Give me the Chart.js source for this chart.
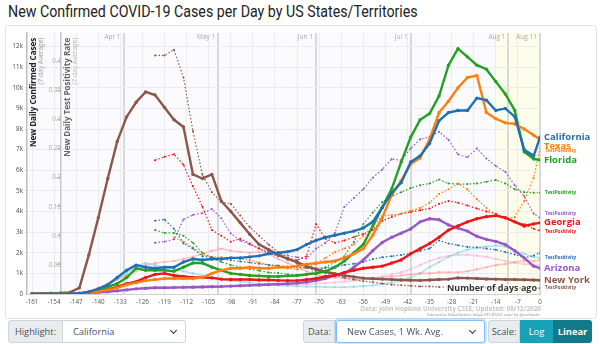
<!DOCTYPE html>
<html lang="en">
<head>
<meta charset="utf-8">
<title>New Confirmed COVID-19 Cases per Day by US States/Territories</title>
<script src="https://cdn.jsdelivr.net/npm/chart.js@4.4.0/dist/chart.umd.min.js"></script>
<style>
  html, body { margin: 0; padding: 0; background: #fff; width: 600px; height: 344px; overflow: hidden; font-family: Roboto, "Open Sans", sans-serif; }
  #titulo { position: absolute; left: 8px; top: 1px; font-size: 17px; color: #222; white-space: nowrap; transform-origin: 0 0; }
  #caixa { position: absolute; left: 5px; top: 25px; width: 590px; height: 292px; border: 1px solid #e4e4e4; border-radius: 3px; }
  #area { position: absolute; left: 6px; top: 28px; width: 590px; height: 278px; }
  .fonte { position: absolute; right: 59px; white-space: nowrap; font-family: "Open Sans", sans-serif; color: #c6c6c6; font-weight: 700; }
  .grupo { position: absolute; top: 320px; height: 23px; display: flex; font-family: "Open Sans", sans-serif; font-size: 9.3px; color: #495057; }
  .rot { background: #e9ecef; border: 1px solid #ced4da; border-radius: 3px 0 0 3px; display: flex; align-items: center; justify-content: center; padding: 0; box-sizing: border-box; }
  .sel { background: #fff; border: 1px solid #ced4da; border-left: none; border-radius: 0 3px 3px 0; display: flex; align-items: center; padding: 0 10px; box-sizing: border-box; position: relative; }
  .sel::after { content: ""; position: absolute; right: 9px; top: 7px; width: 4px; height: 4px; border-right: 1.5px solid #333; border-bottom: 1.5px solid #333; transform: rotate(45deg); }
  .foco { border: 1px solid #80bdff; box-shadow: 0 0 0 2px rgba(0,123,255,0.18); border-radius: 3px; }
  .bt { display: flex; align-items: center; justify-content: center; color: #fff; box-sizing: border-box; }
</style>
</head>
<body>
<div id="titulo">New Confirmed COVID-19 Cases per Day by US States/Territories</div>
<div id="caixa"></div>
<div id="area"><canvas id="graficoCasos" width="590" height="278"></canvas></div>
<div class="fonte" style="top:304px; font-size:6.4px;">Data: John Hopkins University CSSE; Updated: 08/12/2020</div>
<div class="fonte" style="top:312px; font-size:3.6px; color:#b5b5b5;">Interactive Visualization: https://91-DIVOC.com/ by @profwade_</div>

<div class="grupo" style="left:8px; width:178px;">
  <div class="rot" style="width:55px;">Highlight:</div>
  <div class="sel" style="width:123px;">California</div>
</div>
<div class="grupo" style="left:303px; width:182px;">
  <div class="rot" style="width:33px;">Data:</div>
  <div class="sel foco" style="width:149px;">New Cases, 1 Wk. Avg.</div>
</div>
<div class="grupo" style="left:488px; width:104px;">
  <div class="rot" style="width:32px;">Scale:</div>
  <div class="bt" style="width:33px; background:#17a2b8;">Log</div>
  <div class="bt" style="width:39px; background:#117a8b; border-radius:0 3px 3px 0; font-weight:700;">Linear</div>
</div>

<script>
// dias atrás (eixo x) — um ponto a cada 3 dias
const dias = [-161,-158,-155,-152,-149,-146,-143,-140,-137,-134,-131,-128,-125,-122,-119,-116,-113,-110,-107,-104,-101,-98,-95,-92,-89,-86,-83,-80,-77,-74,-71,-68,-65,-62,-59,-56,-53,-50,-47,-44,-41,-38,-35,-32,-29,-26,-23,-20,-17,-14,-11,-8,-5,-2,0];

// ticks do eixo x de baixo e do eixo y
const ticksDias = [-161,-154,-147,-140,-133,-126,-119,-112,-105,-98,-91,-84,-77,-70,-63,-56,-49,-42,-35,-28,-21,-14,-7,0];
const ticksCasos = [0,1000,2000,3000,4000,5000,6000,7000,8000,9000,10000,11000,12000];
const ticksPositividade = [0.05,0.1,0.15,0.2,0.25,0.3,0.35,0.4];

// linhas dos meses (em dias atrás) e seus nomes
const diasMeses = [-132,-102,-71,-41,-10,0];
const rotulosMeses = ['Apr 1','May 1','Jun 1','Jul 1','Aug 1','Aug 11'];

// casos novos por dia (média de 7 dias)
const casosCalifornia = [0,0,0,5,10,40,100,250,450,800,1150,1400,1300,1250,1300,1300,1550,1700,1650,1700,1700,1750,1750,1800,1850,1950,2000,2050,2150,2400,2600,2750,2850,2950,3050,3200,3500,4200,4900,5400,6400,6700,7300,8400,8800,8900,8900,9500,9400,8900,9000,8600,7000,6700,7600];
const casosTexas = [0,0,0,0,5,20,60,120,200,300,450,550,650,700,750,750,750,750,800,1000,1150,1250,1250,1300,1250,1250,1300,1300,1350,1450,1500,1550,1600,1750,1950,2200,2850,3700,4800,5500,6300,6600,7500,8800,9350,10000,10500,10600,8800,8500,8300,8250,8000,7700,7500];
const casosFlorida = [0,0,0,0,5,20,80,200,350,500,800,1250,1150,1150,1150,1100,1300,1500,1500,1300,1150,1000,950,900,880,850,850,880,900,950,1000,1100,1300,1600,2000,2400,3300,4200,5100,6400,7600,8450,8750,9600,11100,11900,11500,11100,10900,10300,9700,8900,6900,6550,6500];
const casosGeorgia = [0,0,0,0,5,20,60,120,220,350,500,600,800,950,1000,900,850,800,800,780,720,700,700,700,680,680,660,650,650,700,750,850,900,1050,1150,1250,1300,1350,1500,1650,1950,2200,2450,2750,3100,3300,3500,3650,3750,3800,3700,3500,3300,3400,3450];
const casosArizona = [0,0,0,0,5,20,50,80,110,150,200,250,280,300,300,310,320,330,340,350,360,380,400,420,440,460,480,500,530,580,650,750,900,1000,1300,1650,2100,2500,2750,2950,3150,3500,3650,3600,3350,3200,3050,2800,2650,2550,2400,2100,1750,1350,1250];
const casosNovaYork = [30,30,40,50,80,300,1900,3700,5600,7400,8600,9300,9800,9650,9050,8450,8100,5800,5600,5800,4500,4000,3450,2900,2400,2150,1900,1700,1550,1350,1200,1080,980,900,830,770,740,720,700,680,670,660,680,700,720,780,770,750,730,720,700,700,690,680,670];

// outros estados (linhas claras no fundo)
const casosOutroA = [0,0,0,0,10,50,150,300,500,700,900,1100,1400,1500,1550,1600,1700,1800,1950,2100,2200,2100,2050,2000,2050,1950,1700,1500,1300,1100,950,850,800,750,700,700,750,800,850,900,950,1000,1000,1050,1050,1050,1100,1200,1300,1400,1450,1550,1600,1600,1650];
const casosOutroB = [0,0,0,0,0,20,100,250,450,700,1000,1350,1500,1400,1300,1200,1100,1000,900,800,700,650,600,550,500,450,420,400,380,360,350,340,330,330,350,380,420,480,550,650,800,1000,1300,1550,1800,2000,2150,2250,2300,2350,2300,2100,1950,1800,1750];
const casosOutroC = [0,0,0,0,0,10,30,60,100,150,200,250,300,320,340,350,360,370,380,390,400,400,400,410,420,430,440,450,460,480,500,530,560,600,650,700,780,850,950,1050,1200,1400,1600,1750,1850,1900,1900,1850,1800,1700,1600,1500,1450,1400,1400];

// taxa de positividade dos testes (média de 7 dias), null antes de existir dado
const positCalifornia = [null,null,null,null,null,null,null,null,null,null,null,null,null,0.126,0.128,0.112,0.087,0.078,0.065,0.063,0.06,0.058,0.056,0.054,0.052,0.05,0.049,0.047,0.046,0.045,0.044,0.045,0.047,0.05,0.052,0.055,0.06,0.063,0.065,0.067,0.07,0.074,0.078,0.092,0.087,0.084,0.081,0.08,0.078,0.076,0.072,0.068,0.062,0.066,0.071];
const positTexas = [null,null,null,null,null,null,null,null,null,null,null,null,null,null,null,0.097,0.09,0.08,0.068,0.064,0.063,0.062,0.06,0.058,0.054,0.05,0.047,0.044,0.042,0.045,0.052,0.062,0.072,0.078,0.085,0.1,0.116,0.134,0.136,0.138,0.143,0.148,0.157,0.172,0.18,0.19,0.18,0.163,0.148,0.136,0.13,0.132,0.16,0.2,0.25];
const positFlorida = [null,null,null,null,null,null,null,null,null,null,null,null,null,0.11,0.105,0.105,0.1,0.088,0.071,0.062,0.055,0.05,0.046,0.043,0.04,0.037,0.036,0.034,0.032,0.034,0.04,0.046,0.055,0.065,0.09,0.12,0.14,0.158,0.168,0.175,0.182,0.187,0.19,0.197,0.19,0.189,0.189,0.19,0.193,0.196,0.19,0.18,0.175,0.174,0.174];
const positGeorgia = [null,null,null,null,null,null,null,null,null,null,null,null,null,0.23,0.236,0.24,0.222,0.185,0.15,0.11,0.1,0.09,0.095,0.087,0.078,0.07,0.065,0.062,0.058,0.065,0.12,0.095,0.088,0.092,0.098,0.103,0.11,0.126,0.132,0.138,0.141,0.144,0.147,0.155,0.16,0.157,0.152,0.147,0.142,0.138,0.13,0.124,0.12,0.112,0.109];
const positArizona = [null,null,null,null,null,null,null,null,null,null,null,null,null,0.088,0.09,0.094,0.128,0.136,0.139,0.146,0.13,0.104,0.092,0.085,0.078,0.073,0.07,0.066,0.063,0.061,0.078,0.088,0.105,0.15,0.165,0.18,0.2,0.214,0.232,0.23,0.25,0.266,0.27,0.279,0.265,0.24,0.235,0.25,0.233,0.22,0.21,0.187,0.168,0.138,0.131];
const positNovaYork = [null,null,null,null,null,null,null,null,null,null,null,null,null,0.41,0.41,0.42,0.372,0.28,0.205,0.175,0.158,0.155,0.135,0.115,0.1,0.085,0.072,0.062,0.052,0.045,0.04,0.036,0.032,0.028,0.025,0.022,0.02,0.018,0.016,0.015,0.014,0.013,0.013,0.012,0.012,0.012,0.011,0.011,0.011,0.011,0.011,0.01,0.01,0.01,0.01];

// cores de cada estado
const cores = { california: '#1f6fb4', texas: '#ff7f0e', florida: '#22a022', georgia: '#f01414', arizona: '#9856c8', novaYork: '#8c564b' };

// junta os dias com os valores no formato {x, y}
const paraPontos = (valores) => dias.map((d, i) => ({ x: d, y: valores[i] }));

// linha principal (casos)
const serieCasos = (rotulo, valores, cor) => ({
    label: rotulo, data: paraPontos(valores), yAxisID: 'y', xAxisID: 'x',
    borderColor: cor, backgroundColor: cor, borderWidth: 2.4, pointRadius: 1.7, pointBorderWidth: 0, tension: 0,
});
// linha pontilhada (positividade)
const seriePositividade = (rotulo, valores, cor) => ({
    label: rotulo, data: paraPontos(valores), yAxisID: 'y2', xAxisID: 'x',
    borderColor: cor, backgroundColor: cor, borderWidth: 1.2, borderDash: [1.5, 2], pointRadius: 1, pointBorderWidth: 0, tension: 0,
});
// linha clara de fundo
const serieFraca = (rotulo, valores, cor) => ({
    label: rotulo, data: paraPontos(valores), yAxisID: 'y', xAxisID: 'x',
    borderColor: cor, backgroundColor: cor, borderWidth: 1.6, pointRadius: 1.3, pointBorderWidth: 0, tension: 0,
});

// rótulos no fim das linhas (texto, cor, valores, eixo, ajuste vertical)
const rotulosFinais = [
    { texto: 'California', cor: cores.california, valores: casosCalifornia, eixo: 'y', ajuste: 0, grande: true },
    { texto: 'Texas', cor: cores.texas, valores: casosTexas, eixo: 'y', ajuste: 7, grande: true },
    { texto: 'TestPositivity', cor: cores.texas, valores: positTexas, eixo: 'y2', ajuste: 2, grande: false },
    { texto: 'Florida', cor: cores.florida, valores: casosFlorida, eixo: 'y', ajuste: 0, grande: true },
    { texto: 'TestPositivity', cor: cores.florida, valores: positFlorida, eixo: 'y2', ajuste: 0, grande: false },
    { texto: 'TestPositivity', cor: cores.arizona, valores: positArizona, eixo: 'y2', ajuste: -4, grande: false },
    { texto: 'Georgia', cor: cores.georgia, valores: casosGeorgia, eixo: 'y', ajuste: -1, grande: true },
    { texto: 'TestPositivity', cor: cores.georgia, valores: positGeorgia, eixo: 'y2', ajuste: 1, grande: false },
    { texto: 'TestPositivity', cor: cores.california, valores: positCalifornia, eixo: 'y2', ajuste: 5, grande: false },
    { texto: 'Arizona', cor: cores.arizona, valores: casosArizona, eixo: 'y', ajuste: 0, grande: true },
    { texto: 'New York', cor: cores.novaYork, valores: casosNovaYork, eixo: 'y', ajuste: 0, grande: true },
    { texto: 'TestPositivity', cor: cores.novaYork, valores: positNovaYork, eixo: 'y2', ajuste: 0, grande: false },
];

// plugin do fundo da área do gráfico (e a faixa amarela das últimas 2 semanas)
const pluginFundo = {
    id: 'fundo',
    beforeDraw(chart) {
        const { ctx, chartArea: a, scales } = chart;
        ctx.save();
        ctx.fillStyle = '#fbfbfe';
        ctx.fillRect(a.left, a.top, a.right - a.left, a.bottom - a.top);
        const x1 = scales.x.getPixelForValue(-14);
        ctx.fillStyle = '#fdfdec';
        ctx.fillRect(x1, a.top, a.right - x1, a.bottom - a.top);
        ctx.restore();
    },
};

// plugin dos textos: títulos dos eixos, meses, rótulos finais
const pluginTextos = {
    id: 'textos',
    afterDraw(chart) {
        const { ctx, chartArea: a, scales } = chart;
        ctx.save();
        // nomes dos meses no topo
        ctx.font = '6.5px "Open Sans"';
        ctx.fillStyle = '#aaa';
        ctx.textAlign = 'right';
        ctx.textBaseline = 'middle';
        diasMeses.forEach((d, i) => ctx.fillText(rotulosMeses[i], scales.x.getPixelForValue(d) - 3, a.top + 4));

        // títulos verticais dos eixos
        const tituloVertical = (texto, x, fonte, cor) => {
            ctx.save();
            ctx.translate(x, a.top + 5);
            ctx.rotate(-Math.PI / 2);
            ctx.font = fonte;
            ctx.fillStyle = cor;
            ctx.textAlign = 'right';
            ctx.textBaseline = 'middle';
            ctx.fillText(texto, 0, 0);
            ctx.restore();
        };
        const xEixo2 = scales.x.getPixelForValue(-151.8); // linha do segundo eixo
        tituloVertical('New Daily Confirmed Cases', a.left + 7, 'bold 8px "Open Sans"', '#222');
        tituloVertical('(7-day Average)', a.left + 14, '6.5px "Open Sans"', '#999');
        tituloVertical('New Daily Test Positivity Rate', xEixo2 + 7, 'bold 8px "Open Sans"', '#666');
        tituloVertical('(7-day Average)', xEixo2 + 14, '6.5px "Open Sans"', '#bbb');

        // rótulos no fim de cada linha
        ctx.textAlign = 'left';
        rotulosFinais.forEach((r) => {
            const y = scales[r.eixo].getPixelForValue(r.valores[r.valores.length - 1]) + r.ajuste;
            ctx.font = r.grande ? 'bold 9.5px "Open Sans"' : 'bold 4.6px "Open Sans"';
            ctx.fillStyle = r.cor;
            ctx.fillText(r.texto, a.right + (r.grande ? 4 : 5), y);
        });

        // "Number of days ago"
        ctx.font = 'bold 9px "Open Sans"';
        ctx.textAlign = 'right';
        ctx.lineWidth = 2.5;
        ctx.strokeStyle = '#fff';
        ctx.strokeText('Number of days ago', a.right - 3, a.bottom - 6);
        ctx.fillStyle = '#333';
        ctx.fillText('Number of days ago', a.right - 3, a.bottom - 6);
        ctx.restore();
    },
};

// aqui é onde o gráfico é criado
const criarGraficoCasos = () => {
    const ctx = document.getElementById('graficoCasos').getContext('2d');
    Chart.defaults.font.family = '"Open Sans", sans-serif';

    const configuracao = {
        type: 'line',
        data: {
            datasets: [
                serieCasos('California', casosCalifornia, cores.california),
                serieCasos('Texas', casosTexas, cores.texas),
                serieCasos('Florida', casosFlorida, cores.florida),
                serieCasos('Georgia', casosGeorgia, cores.georgia),
                serieCasos('Arizona', casosArizona, cores.arizona),
                serieCasos('New York', casosNovaYork, cores.novaYork),
                seriePositividade('California TestPositivity', positCalifornia, cores.california),
                seriePositividade('Texas TestPositivity', positTexas, cores.texas),
                seriePositividade('Florida TestPositivity', positFlorida, cores.florida),
                seriePositividade('Georgia TestPositivity', positGeorgia, cores.georgia),
                seriePositividade('Arizona TestPositivity', positArizona, cores.arizona),
                seriePositividade('New York TestPositivity', positNovaYork, cores.novaYork),
                serieFraca('Outro A', casosOutroA, 'rgba(255,152,150,0.55)'),
                serieFraca('Outro B', casosOutroB, 'rgba(120,210,225,0.55)'),
                serieFraca('Outro C', casosOutroC, 'rgba(247,182,210,0.6)'),
            ],
        },
        options: {
            responsive: false,
            animation: false,
            events: [],
            layout: { padding: { top: 2, right: 56, left: 0, bottom: 0 } },
            plugins: { legend: { display: false }, tooltip: { enabled: false } },
            scales: {
                x: {
                    type: 'linear', position: 'bottom', min: -162.6, max: 0,
                    afterBuildTicks: (s) => { s.ticks = ticksDias.map((v) => ({ value: v })); },
                    afterFit: (s) => { s.height = 12; },
                    grid: { color: '#ebebf1', lineWidth: 1, tickLength: 3 },
                    border: { color: '#d0d0d0' },
                    ticks: { font: { size: 6.3 }, color: '#555', padding: 1, maxRotation: 0, autoSkip: false },
                },
                x2: {
                    type: 'linear', position: 'top', min: -162.6, max: 0,
                    afterBuildTicks: (s) => { s.ticks = diasMeses.map((v) => ({ value: v })); },
                    afterFit: (s) => { s.height = 0; },
                    grid: { color: '#d8d8d8', lineWidth: 2, drawTicks: false },
                    border: { display: false },
                    ticks: { display: false },
                },
                y: {
                    position: 'left', min: 0, max: 12670,
                    afterBuildTicks: (s) => { s.ticks = ticksCasos.map((v) => ({ value: v })); },
                    afterFit: (s) => { s.width = 21; },
                    grid: { color: '#ebebf1', tickLength: 3 },
                    border: { color: '#bdbdbd', width: 1.5 },
                    ticks: { font: { size: 6.3 }, color: '#444', padding: 1, callback: (v) => (v === 0 ? '0' : v / 1000 + 'k') },
                },
                y2: {
                    axis: 'y', position: { x: -151.8 }, min: 0, max: 0.449,
                    afterBuildTicks: (s) => { s.ticks = ticksPositividade.map((v) => ({ value: v })); },
                    grid: { drawOnChartArea: false, tickLength: 3, color: '#bbb' },
                    border: { color: '#c8c8c8', width: 1.5 },
                    ticks: { font: { size: 6.3 }, color: '#aaa', padding: 1, callback: (v) => String(v) },
                },
            },
        },
        plugins: [pluginFundo, pluginTextos],
    };

    new Chart(ctx, configuracao);
};

// ajusta a largura do título (a fonte original é mais estreita)
const ajustarTitulo = () => {
    const t = document.getElementById('titulo');
    t.style.transform = 'scaleX(' + (410 / t.offsetWidth) + ')';
};

document.fonts.ready.then(() => {
    ajustarTitulo();
    criarGraficoCasos();
});
</script>
</body>
</html>
